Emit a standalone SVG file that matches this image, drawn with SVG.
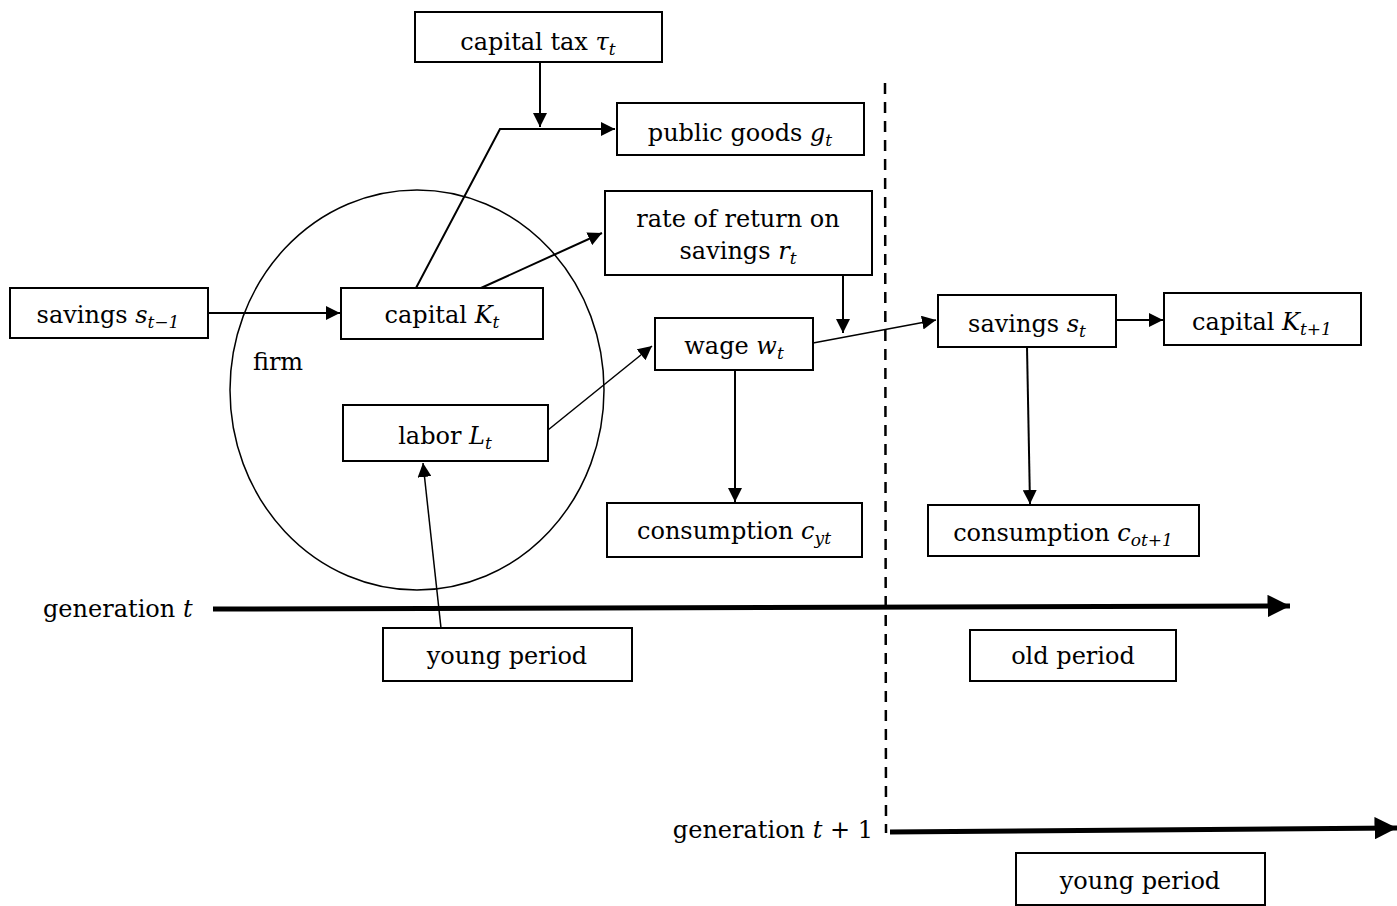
<svg xmlns="http://www.w3.org/2000/svg" width="1397" height="906" viewBox="0 0 1397 906">
<defs>
<style>
.box{fill:#fff;stroke:#000;stroke-width:2}
.t{font-family:"DejaVu Serif","Liberation Serif",serif;font-size:24px;fill:#000}
.m{font-style:italic}
.s{font-size:17px;font-style:italic}
.c{fill:none;stroke:#000;stroke-width:2}
.thin{fill:none;stroke:#000;stroke-width:1.5}
.thick{fill:none;stroke:#000;stroke-width:5}
</style>
<marker id="ahb" viewBox="0 0 10 10" refX="10" refY="5" markerWidth="14" markerHeight="14" markerUnits="userSpaceOnUse" orient="auto"><path d="M0,0 L10,5 L0,10 Z" fill="#000"/></marker>
<marker id="aht" viewBox="0 0 10 10" refX="10" refY="5" markerWidth="4.5" markerHeight="4.5" orient="auto"><path d="M0,0 L10,5 L0,10 Z" fill="#000"/></marker>
</defs>
<g id="firm">
<ellipse cx="417" cy="390" rx="187" ry="200" fill="none" stroke="#000" stroke-width="1.5"/>
<text class="t" x="278" y="370" text-anchor="middle">firm</text>
</g>
<g id="connectors">
<line class="c" x1="540" y1="62" x2="540" y2="127" marker-end="url(#ahb)"/>
<polyline class="c" points="416,288 500,129 615,129" marker-end="url(#ahb)"/>
<line class="c" x1="481" y1="288" x2="602" y2="233" marker-end="url(#ahb)"/>
<line class="c" x1="208" y1="313" x2="340" y2="313" marker-end="url(#ahb)"/>
<line class="thin" x1="548" y1="430" x2="652" y2="346" marker-end="url(#ahb)"/>
<line class="thin" x1="441" y1="628" x2="423" y2="463" marker-end="url(#ahb)"/>
<line class="c" x1="843" y1="275" x2="843" y2="333" marker-end="url(#ahb)"/>
<line class="thin" x1="813" y1="343" x2="936" y2="320" marker-end="url(#ahb)"/>
<line class="c" x1="735" y1="370" x2="735" y2="502" marker-end="url(#ahb)"/>
<line class="c" x1="1027" y1="347" x2="1030" y2="504" marker-end="url(#ahb)"/>
<line class="c" x1="1116" y1="320" x2="1163" y2="320" marker-end="url(#ahb)"/>
<line class="thick" x1="213" y1="609" x2="1290" y2="606" marker-end="url(#aht)"/>
<line class="thick" x1="890" y1="832" x2="1397" y2="828" marker-end="url(#aht)"/>
<line x1="885" y1="83" x2="886" y2="833" stroke="#000" stroke-width="2.5" stroke-dasharray="11,8"/>
</g>
<g id="capital-tax">
<rect class="box" x="415" y="12" width="247" height="50"/>
<text class="t" x="538" y="50" text-anchor="middle">capital tax <tspan class="m">τ</tspan><tspan class="s" dy="5">t</tspan></text>
</g>
<g id="public-goods">
<rect class="box" x="617" y="103" width="247" height="52"/>
<text class="t" x="740" y="141" text-anchor="middle">public goods <tspan class="m">g</tspan><tspan class="s" dy="5">t</tspan></text>
</g>
<g id="rate-of-return">
<rect class="box" x="605" y="191" width="267" height="84"/>
<text class="t" x="738" y="227" text-anchor="middle">rate of return on</text>
<text class="t" x="738" y="259" text-anchor="middle">savings <tspan class="m">r</tspan><tspan class="s" dy="5">t</tspan></text>
</g>
<g id="savings-prev">
<rect class="box" x="10" y="288" width="198" height="50"/>
<text class="t" x="108" y="323" text-anchor="middle">savings <tspan class="m">s</tspan><tspan class="s" dy="5">t−1</tspan></text>
</g>
<g id="capital">
<rect class="box" x="341" y="288" width="202" height="51"/>
<text class="t" x="442" y="323" text-anchor="middle" font-size="22">capital <tspan class="m">K</tspan><tspan class="s" dy="5">t</tspan></text>
</g>
<g id="labor">
<rect class="box" x="343" y="405" width="205" height="56"/>
<text class="t" x="445" y="444" text-anchor="middle">labor <tspan class="m">L</tspan><tspan class="s" dy="5">t</tspan></text>
</g>
<g id="wage">
<rect class="box" x="655" y="318" width="158" height="52"/>
<text class="t" x="734" y="354" text-anchor="middle">wage <tspan class="m">w</tspan><tspan class="s" dy="5">t</tspan></text>
</g>
<g id="consumption-young">
<rect class="box" x="607" y="503" width="255" height="54"/>
<text class="t" x="734" y="539" text-anchor="middle">consumption <tspan class="m">c</tspan><tspan class="s" dy="5">yt</tspan></text>
</g>
<g id="savings">
<rect class="box" x="938" y="295" width="178" height="52"/>
<text class="t" x="1027" y="332" text-anchor="middle">savings <tspan class="m">s</tspan><tspan class="s" dy="5">t</tspan></text>
</g>
<g id="capital-next">
<rect class="box" x="1164" y="293" width="197" height="52"/>
<text class="t" x="1262" y="330" text-anchor="middle">capital <tspan class="m">K</tspan><tspan class="s" dy="5">t+1</tspan></text>
</g>
<g id="consumption-old">
<rect class="box" x="928" y="505" width="271" height="51"/>
<text class="t" x="1063" y="541" text-anchor="middle">consumption <tspan class="m">c</tspan><tspan class="s" dy="5">ot+1</tspan></text>
</g>
<g id="generation-t">
<text class="t" x="43" y="617">generation <tspan class="m">t</tspan></text>
</g>
<g id="young-period">
<rect class="box" x="383" y="628" width="249" height="53"/>
<text class="t" x="507" y="664" text-anchor="middle">young period</text>
</g>
<g id="old-period">
<rect class="box" x="970" y="630" width="206" height="51"/>
<text class="t" x="1073" y="664" text-anchor="middle">old period</text>
</g>
<g id="generation-t1">
<text class="t" x="873" y="838" text-anchor="end">generation <tspan class="m">t</tspan> + 1</text>
</g>
<g id="young-period-next">
<rect class="box" x="1016" y="853" width="249" height="52"/>
<text class="t" x="1140" y="889" text-anchor="middle">young period</text>
</g>
</svg>
